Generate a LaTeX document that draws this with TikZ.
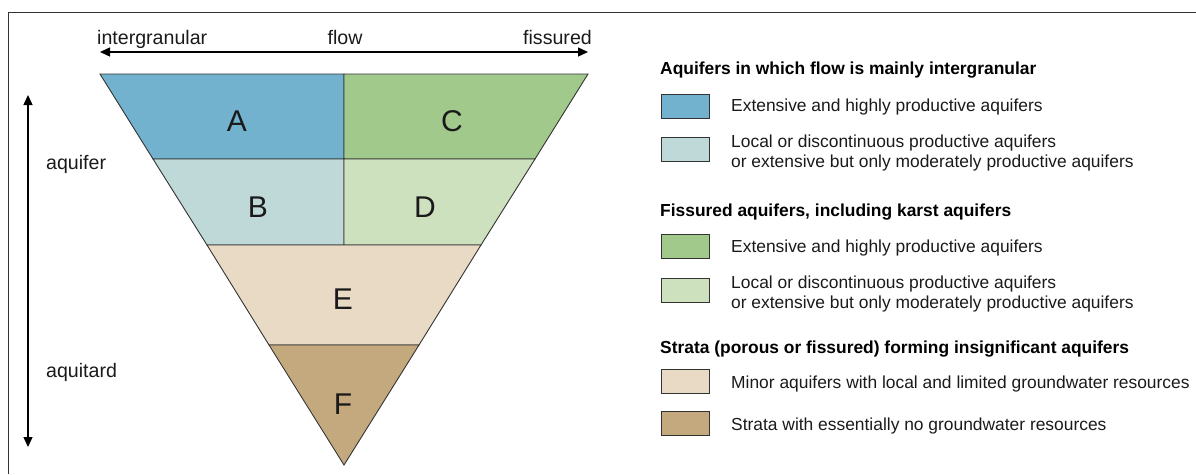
\documentclass[tikz,border=0pt]{standalone}
\usepackage{fontspec}
\setmainfont{Liberation Sans}
\usetikzlibrary{arrows.meta}
\definecolor{cA}{HTML}{72B2CE}
\definecolor{cB}{HTML}{BFD9D9}
\definecolor{cC}{HTML}{A1C98B}
\definecolor{cD}{HTML}{CEE1BF}
\definecolor{cE}{HTML}{E8DAC4}
\definecolor{cF}{HTML}{C4A97E}
\definecolor{edge}{HTML}{333333}
\definecolor{txt}{HTML}{1A1A1A}
\tikzset{
  region/.style={draw=edge, line width=0.9pt, line join=miter},
  letter/.style={font=\fontsize{30}{30}\selectfont, text=txt, inner sep=0pt, text height=21.5pt, text depth=0pt, anchor=center},
  side/.style={font=\fontsize{19.6}{22}\selectfont, text=txt, inner sep=0pt, text height=14pt, text depth=0pt},
  legtext/.style={font=\fontsize{17.4}{20}\selectfont, text=txt, inner sep=0pt, text height=12.5pt, text depth=0pt, anchor=west},
  leghead/.style={font=\fontsize{17.4}{20}\selectfont\bfseries, text=black, inner sep=0pt, text height=12.5pt, text depth=0pt, anchor=west},
  legbox/.style={draw=edge, line width=1.4pt, minimum width=48pt, minimum height=24pt, inner sep=0pt, anchor=north west},
  dblarrow/.style={line width=1.3pt, {Triangle[length=10pt,width=9pt]}-{Triangle[length=10pt,width=9pt]}},
}
\begin{document}
\begin{tikzpicture}[x=1pt,y=-1pt]
\useasboundingbox (0,0) rectangle (1196,474);
% frame
\draw[edge, line width=1pt] (1196,12.5) -- (8.5,12.5) -- (8.5,474);
% regions
\path[region, fill=cA] (100,74) -- (344,74) -- (344,159) -- (153,159) -- cycle;
\path[region, fill=cC] (344,74) -- (588,74) -- (535,159) -- (344,159) -- cycle;
\path[region, fill=cB] (153,159) -- (344,159) -- (344,245) -- (207,245) -- cycle;
\path[region, fill=cD] (344,159) -- (535,159) -- (481,245) -- (344,245) -- cycle;
\path[region, fill=cE] (207,245) -- (481,245) -- (419,345) -- (269,345) -- cycle;
\path[region, fill=cF] (269,345) -- (419,345) -- (344,465) -- cycle;
\node[letter] (lA) at (237,121) {A};
\node[letter] (lC) at (452,121) {C};
\node[letter] (lB) at (258,207) {B};
\node[letter] (lD) at (425,207) {D};
\node[letter] (lE) at (343,299) {E};
\node[letter] (lF) at (343,404) {F};
% flow arrow
\coordinate (fl) at (100,52);
\coordinate (fr) at (588,52);
\draw[dblarrow] (fl) -- (fr);
\node[side, anchor=west] (ig) at (97,37) {intergranular};
\node[side, anchor=center] (fw) at (345,37) {flow};
\node[side, anchor=east] (fs) at (592,37) {fissured};
% vertical arrow
\coordinate (vt) at (28,95);
\coordinate (vb) at (28,447);
\draw[dblarrow] (vt) -- (vb);
\node[side, anchor=west] (aq) at (46,162) {aquifer};
\node[side, anchor=west] (at) at (46,370) {aquitard};
% legend
\node[leghead] (h1) at (660,68) {Aquifers in which flow is mainly intergranular};
\node[legbox, fill=cA] (k1) at (661,93.5) {};
\node[legtext] (t1) at (731,105) {Extensive and highly productive aquifers};
\node[legbox, fill=cB] (k2) at (661,137) {};
\node[legtext] (t2a) at (731,141) {Local or discontinuous productive aquifers};
\node[legtext] (t2b) at (731,161) {or extensive but only moderately productive aquifers};
\node[leghead] (h2) at (660,210) {Fissured aquifers, including karst aquifers};
\node[legbox, fill=cC] (k3) at (661,233.5) {};
\node[legtext] (t3) at (731,246) {Extensive and highly productive aquifers};
\node[legbox, fill=cD] (k4) at (661,277.5) {};
\node[legtext] (t4a) at (731,282) {Local or discontinuous productive aquifers};
\node[legtext] (t4b) at (731,302) {or extensive but only moderately productive aquifers};
\node[leghead] (h3) at (660,347) {Strata (porous or fissured) forming insignificant aquifers};
\node[legbox, fill=cE] (k5) at (661,368.5) {};
\node[legtext] (t5) at (731,382) {Minor aquifers with local and limited groundwater resources};
\node[legbox, fill=cF] (k6) at (661,410.5) {};
\node[legtext] (t6) at (731,424) {Strata with essentially no groundwater resources};
\end{tikzpicture}
\end{document}
